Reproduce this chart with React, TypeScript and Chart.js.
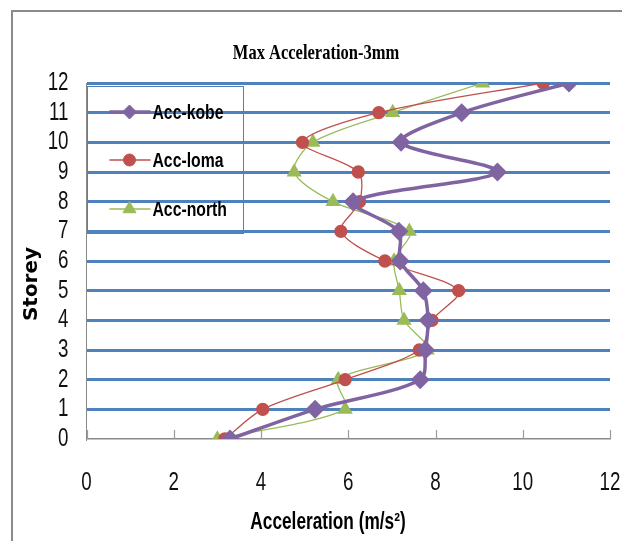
import React, { useEffect, useRef } from 'react';
import { Chart, registerables } from 'chart.js';
import { drawPoint } from 'chart.js/helpers';

Chart.register(...registerables);

const storeys = [0, 1, 2, 3, 4, 5, 6, 7, 8, 9, 10, 11, 12];
const accKobe = [3.29, 5.24, 7.65, 7.77, 7.83, 7.72, 7.19, 7.16, 6.11, 9.42, 7.21, 8.6, 11.06];
const accLoma = [3.17, 4.04, 5.93, 7.63, 7.92, 8.53, 6.84, 5.83, 6.26, 6.23, 4.95, 6.7, 10.47];
const accNorth = [3.0, 5.93, 5.77, 7.81, 7.28, 7.17, 7.05, 7.4, 5.65, 4.76, 5.19, 7.02, 9.08];
const seriesNames = ['Acc-kobe', 'Acc-loma', 'Acc-north'];
const chartTitle = 'Max Acceleration-3mm';
const xTitle = 'Acceleration (m/s²)';
const yTitle = 'Storey';

const SANS = '"Liberation Sans", Arial, sans-serif';
const SQUISH = 0.75; // condensed lettering, as in the original

const toPoints = (vals: number[]) => vals.map((v, i) => ({ x: v, y: storeys[i] }));

const condensed = {
  id: 'condensed',
  beforeInit(chart: any) {
    const ctx = chart.ctx;
    const orig = CanvasRenderingContext2D.prototype.fillText;
    ctx._plainFillText = (t: string, x: number, y: number) => orig.call(ctx, t, x, y);
    ctx.fillText = function (text: string, x: number, y: number, maxWidth?: number) {
      ctx.save();
      ctx.translate(x, y);
      ctx.scale(SQUISH, 1);
      if (maxWidth !== undefined && maxWidth !== null) orig.call(ctx, text, 0, 0, maxWidth / SQUISH);
      else orig.call(ctx, text, 0, 0);
      ctx.restore();
    };
  },
};

const decor = {
  id: 'decor',
  beforeDraw(chart: any) {
    const ctx = chart.ctx;
    ctx.save();
    ctx.strokeStyle = '#8a8a8a';
    ctx.lineWidth = 2;
    ctx.beginPath();
    ctx.moveTo(12, 541);
    ctx.lineTo(12, 11);
    ctx.lineTo(622, 11);
    ctx.stroke();
    ctx.restore();
  },
  beforeDatasetsDraw(chart: any) {
    const ctx = chart.ctx;
    const xs = chart.scales.x;
    const { bottom } = chart.chartArea;
    ctx.save();
    ctx.strokeStyle = '#9a9a9a';
    ctx.lineWidth = 1.2;
    xs.ticks.forEach((t: any) => {
      const px = Math.round(xs.getPixelForValue(t.value)) + 0.5;
      ctx.beginPath();
      ctx.moveTo(px, bottom);
      ctx.lineTo(px, bottom - 9);
      ctx.stroke();
    });
    ctx.restore();
  },
  afterDraw(chart: any) {
    const ctx = chart.ctx;
    const { left, top, bottom } = chart.chartArea;
    ctx.save();
    // legend box
    ctx.strokeStyle = '#4F81BD';
    ctx.lineWidth = 1;
    ctx.strokeRect(Math.round(left) + 0.5, top + 3.5, 156, 147);
    const rows = [top + 29, top + 77, top + 126];
    chart.data.datasets.forEach((ds: any, i: number) => {
      const y = rows[i];
      ctx.strokeStyle = ds.borderColor;
      ctx.lineWidth = ds.borderWidth;
      ctx.beginPath();
      ctx.moveTo(left + 23, y);
      ctx.lineTo(left + 64, y);
      ctx.stroke();
      ctx.fillStyle = ds.pointBackgroundColor;
      ctx.strokeStyle = ds.pointBorderColor;
      ctx.lineWidth = 1;
      drawPoint(ctx, { pointStyle: ds.pointStyle, radius: ds.pointRadius, rotation: 0, borderWidth: 1 }, left + 43, y);
      ctx.fillStyle = '#000';
      ctx.font = `bold 21px ${SANS}`;
      ctx.textAlign = 'left';
      ctx.textBaseline = 'middle';
      ctx.fillText(ds.label, left + 66, y + 1);
    });
    // axis titles
    ctx.fillStyle = '#000';
    ctx.font = `bold 23px ${SANS}`;
    ctx.textAlign = 'center';
    ctx.textBaseline = 'middle';
    ctx.fillText(xTitle, left + 241.5, bottom + 84);
    ctx.translate(32, 284);
    ctx.rotate(-Math.PI / 2);
    ctx.font = 'bold 20px "DejaVu Sans", Verdana, sans-serif';
    ctx._plainFillText(yTitle, 0, 0);
    ctx.restore();
  },
};

export default function App() {
  const ref = useRef<HTMLCanvasElement>(null);
  useEffect(() => {
    if (!ref.current) return;
    const chart = new Chart(ref.current, {
      type: 'line',
      data: {
        datasets: [
          {
            label: seriesNames[0],
            data: toPoints(accKobe),
            borderColor: '#8064A2',
            backgroundColor: '#8064A2',
            pointBackgroundColor: '#8064A2',
            pointBorderColor: '#8064A2',
            borderWidth: 3.5,
            pointStyle: 'rectRot',
            pointRadius: 7,
            tension: 0.3,
          },
          {
            label: seriesNames[1],
            data: toPoints(accLoma),
            borderColor: '#C0504D',
            backgroundColor: '#C0504D',
            pointBackgroundColor: '#C0504D',
            pointBorderColor: '#C0504D',
            borderWidth: 1.3,
            pointStyle: 'circle',
            pointRadius: 6,
            tension: 0.3,
          },
          {
            label: seriesNames[2],
            data: toPoints(accNorth),
            borderColor: '#9BBB59',
            backgroundColor: '#9BBB59',
            pointBackgroundColor: '#9BBB59',
            pointBorderColor: '#9BBB59',
            borderWidth: 1.3,
            pointStyle: 'triangle',
            pointRadius: 7.5,
            tension: 0.3,
          },
        ] as any,
      },
      options: {
        responsive: false,
        animation: false,
        layout: { padding: { left: 22, right: 12, top: 0, bottom: 0 } },
        plugins: {
          legend: { display: false },
          tooltip: { enabled: false },
          title: {
            display: true,
            text: chartTitle,
            color: '#000',
            font: { family: '"Liberation Serif", "Times New Roman", serif', size: 22, weight: 'bold', lineHeight: 1.2 },
            padding: { top: 39.8, bottom: 16.8 },
          },
        },
        scales: {
          x: {
            type: 'linear',
            min: 0,
            max: 12,
            ticks: { stepSize: 2, autoSkip: false, maxRotation: 0, color: '#111', font: { family: SANS, size: 25 }, padding: 29 },
            grid: { display: false, drawTicks: false },
            border: { display: true, color: '#8a8a8a', width: 1.5 },
            afterFit: (s: any) => {
              s.height = 102;
              s.paddingLeft = 0;
              s.paddingRight = 10;
            },
          },
          y: {
            type: 'linear',
            min: 0,
            max: 12,
            ticks: { stepSize: 1, autoSkip: false, color: '#111', font: { family: SANS, size: 25 }, padding: 18 },
            grid: {
              drawTicks: false,
              lineWidth: 3,
              color: (c: any) => (c.tick && c.tick.value === 0 ? 'rgba(0,0,0,0)' : '#4F81BD'),
            },
            border: { display: true, color: '#8a8a8a', width: 1 },
            afterFit: (s: any) => {
              s.width = 64.5;
              s.paddingTop = 0;
              s.paddingBottom = 0;
            },
          },
        },
      } as any,
      plugins: [condensed, decor],
    });
    return () => chart.destroy();
  }, []);
  return (
    <div style={{ position: 'absolute', left: 0, top: 0, width: 622, height: 541, background: '#fff' }}>
      <canvas ref={ref} width={622} height={541} />
    </div>
  );
}
